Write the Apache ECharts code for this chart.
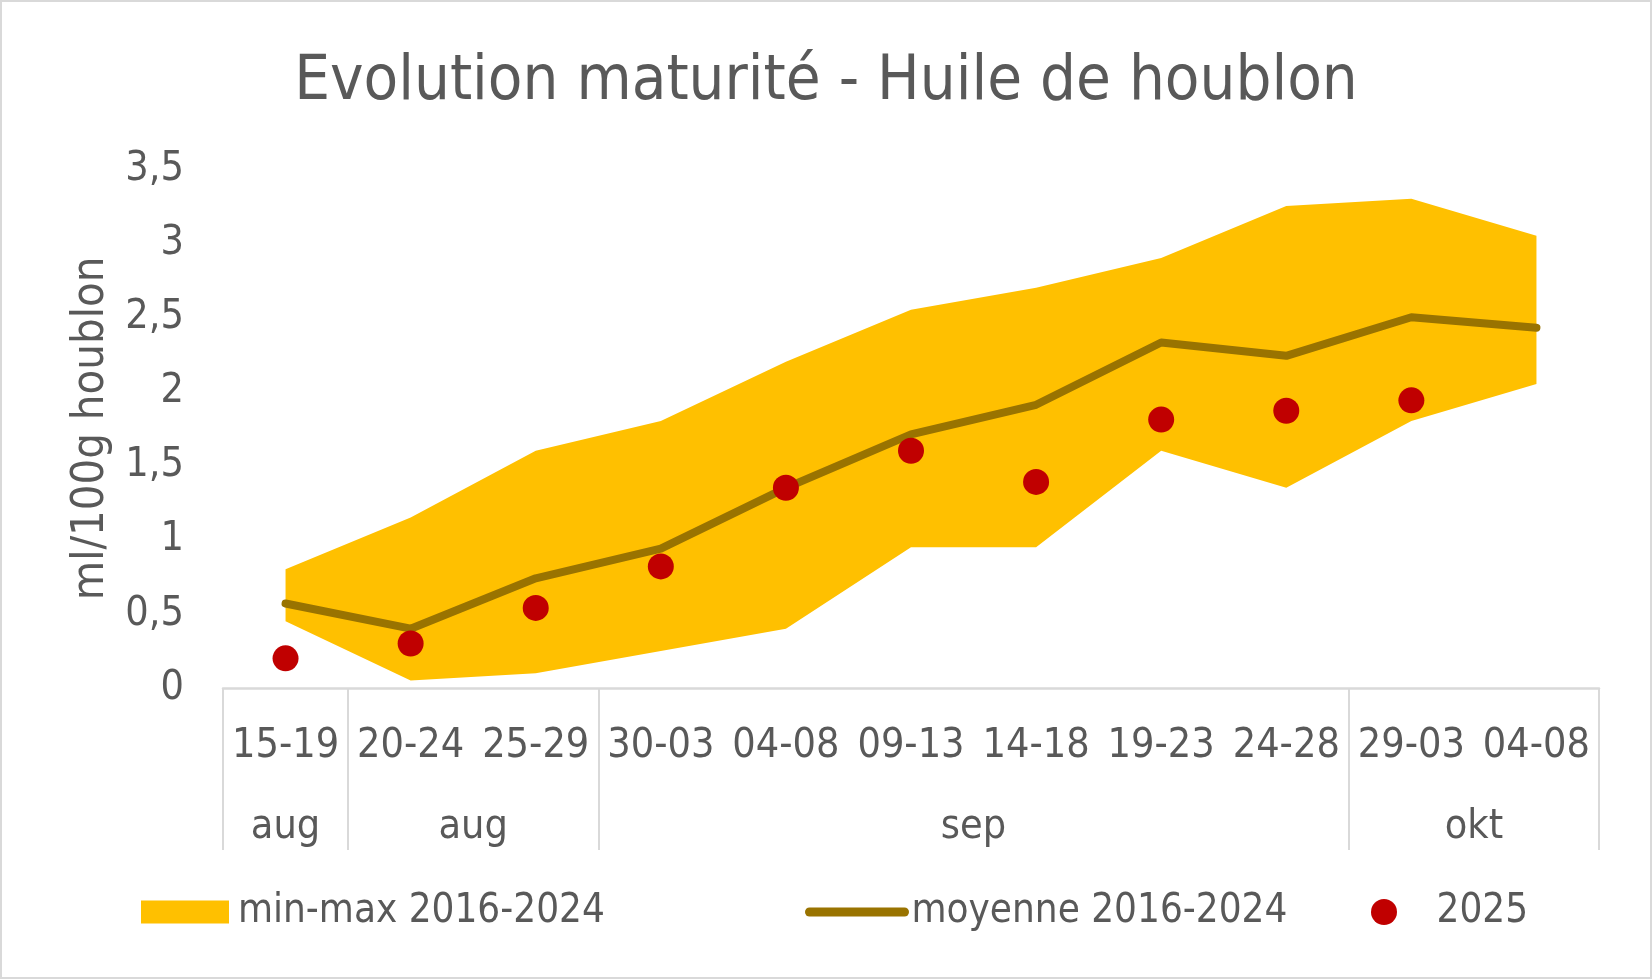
<!DOCTYPE html>
<html>
<head>
<meta charset="utf-8">
<script src="https://cdn.jsdelivr.net/npm/echarts@6/dist/echarts.min.js"></script>
<style>
html,body{margin:0;padding:0;background:#fff;}
#chart{width:1648px;height:975px;border:2px solid #d9d9d9;}
</style>
</head>
<body>
<div id="chart"></div>
<script>
// semaines de récolte
var weeks=['15-19','20-24','25-29','30-03','04-08','09-13','14-18','19-23','24-28','29-03','04-08'];
var monthNames=['aug','aug','sep','okt'];
var monthSpans=[1,2,6,2];
// ml/100g houblon
var minVals=[0.45,0.05,0.1,0.25,0.4,0.95,0.95,1.6,1.35,1.8,2.05];
var maxVals=[0.8,1.15,1.6,1.8,2.2,2.55,2.7,2.9,3.25,3.3,3.05];
var meanVals=[0.57,0.4,0.74,0.94,1.35,1.71,1.91,2.33,2.24,2.5,2.43];
var vals2025=[0.2,0.3,0.54,0.82,1.35,1.6,1.39,1.81,1.87,1.94];

var font='DejaVu Sans Condensed';
var grey='#595959';

// bornes et milieux des mois pour le 2e niveau de l'axe
var bounds=[0],mids=[];
for(var i=0;i<monthSpans.length;i++){
    mids.push(bounds[i]+monthSpans[i]/2);
    bounds.push(bounds[i]+monthSpans[i]);
}
var spread=[];
for(var i=0;i<minVals.length;i++){
    spread[i]=Math.round((maxVals[i]-minVals[i])*1000)/1000;
}

var myChart=echarts.init(document.getElementById('chart'));
var option={
    backgroundColor:'#fff',
    animation:false,
    title:{
        text:'Evolution maturité - Huile de houblon',
        left:'center',
        top:44,
        textStyle:{fontFamily:font,fontSize:63,fontWeight:'normal',color:grey}
    },
    legend:[{
        left:139,top:890,padding:0,
        itemWidth:88,itemHeight:23,
        textStyle:{fontFamily:font,fontSize:40,color:grey,padding:[0,0,0,4]},
        data:[{name:'min-max 2016-2024',icon:'rect',itemStyle:{color:'#FFC000',borderWidth:0}}]
    },{
        left:803,top:890,padding:0,
        itemWidth:95,itemHeight:26,
        lineStyle:{width:9,cap:'round'},
        itemStyle:{opacity:0},
        textStyle:{fontFamily:font,fontSize:40,color:grey,padding:[0,0,0,2]},
        data:[{name:'moyenne 2016-2024',itemStyle:{opacity:0}}]
    },{
        left:1369,top:890,padding:0,
        itemWidth:95,itemHeight:26,
        textStyle:{fontFamily:font,fontSize:40,color:grey},
        data:[{name:'2025',icon:'circle'}]
    }],
    grid:{left:221,right:51,top:167,bottom:289},
    xAxis:[{
        type:'category',
        data:weeks,
        axisLine:{lineStyle:{color:'#d9d9d9',width:2.5}},
        axisTick:{interval:0,length:82,lineStyle:{color:'#d9d9d9',width:2}},
        axisLabel:{interval:0,margin:38,fontFamily:font,fontSize:41,color:grey}
    },{
        type:'value',
        position:'bottom',
        min:0,max:bounds[bounds.length-1],
        axisLine:{show:false},
        splitLine:{show:false},
        axisTick:{show:true,customValues:bounds,length:162,lineStyle:{color:'#d9d9d9',width:2}},
        axisLabel:{
            customValues:mids,margin:119,fontFamily:font,fontSize:41,color:grey,
            formatter:function(v){
                var k=mids.indexOf(v);
                return k>=0?monthNames[k]:'';
            }
        }
    }],
    yAxis:{
        type:'value',
        min:0,max:3.5,interval:0.5,
        name:'ml/100g houblon',
        nameLocation:'middle',
        nameGap:109,
        nameTextStyle:{fontFamily:font,fontSize:45,color:grey},
        axisLine:{show:false},
        axisTick:{show:false},
        splitLine:{show:false},
        axisLabel:{
            margin:39,fontFamily:font,fontSize:41,color:grey,
            formatter:function(v){return String(v).replace('.',',');}
        }
    },
    series:[{
        name:'base',
        type:'line',
        stack:'band',
        data:minVals,
        symbol:'none',
        lineStyle:{width:0,opacity:0},
        silent:true,
        z:1
    },{
        name:'min-max 2016-2024',
        type:'line',
        stack:'band',
        data:spread,
        symbol:'none',
        itemStyle:{color:'#FFC000'},
        lineStyle:{width:0,opacity:0},
        areaStyle:{color:'#FFC000',opacity:1},
        z:1
    },{
        name:'moyenne 2016-2024',
        type:'line',
        data:meanVals,
        symbol:'none',
        itemStyle:{color:'#997300'},
        lineStyle:{color:'#997300',width:8,cap:'round',join:'round'},
        z:3
    },{
        name:'2025',
        type:'scatter',
        data:vals2025,
        symbolSize:26,
        itemStyle:{color:'#C00000',opacity:1},
        z:5
    }]
};
myChart.setOption(option);
</script>
</body>
</html>
